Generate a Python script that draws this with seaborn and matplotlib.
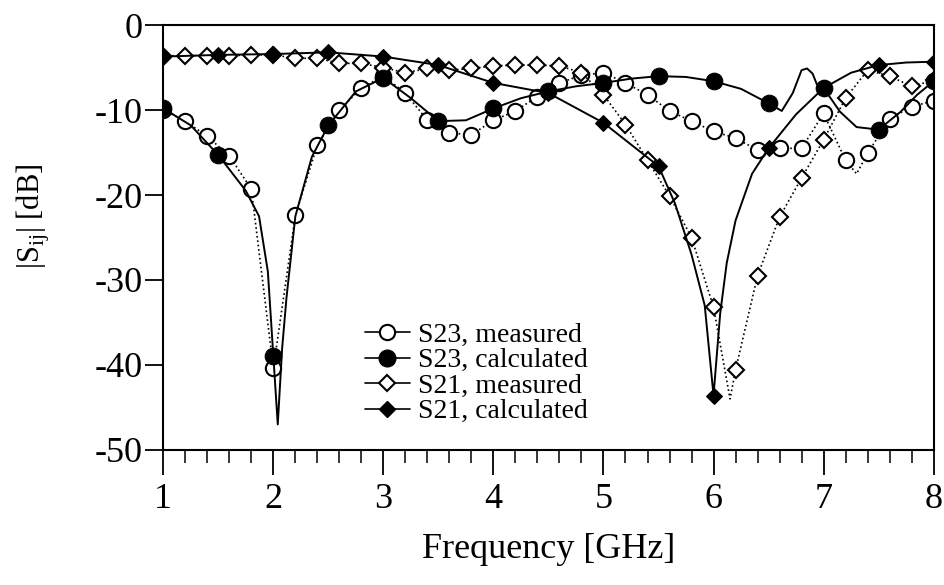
import matplotlib.pyplot as plt
import seaborn as sns
from matplotlib.lines import Line2D
from matplotlib.ticker import MultipleLocator

# S23 measured (open circles every 0.2 GHz, dotted line)
s23_meas_f = [1.0, 1.2, 1.4, 1.6, 1.8, 2.0, 2.2, 2.4, 2.6, 2.8, 3.0, 3.2, 3.4, 3.6,
              3.8, 4.0, 4.2, 4.4, 4.6, 4.8, 5.0, 5.2, 5.4, 5.6, 5.8, 6.0, 6.2, 6.4,
              6.6, 6.8, 7.0, 7.2, 7.3, 7.4, 7.6, 7.8, 8.0]
s23_meas_db = [-10.0, -11.3, -13.1, -15.4, -19.3, -40.4, -22.4, -14.1, -10.0, -7.4, -6.0,
               -8.0, -11.2, -12.7, -12.9, -11.2, -10.1, -8.4, -6.8, -5.9, -5.6, -6.8,
               -8.2, -10.1, -11.3, -12.5, -13.3, -14.7, -14.5, -14.5, -10.4, -15.9,
               -17.5, -15.1, -11.0, -9.6, -8.9]

# S23 calculated (filled circles every 0.5 GHz, solid line)
s23_calc_f = [1.0, 1.25, 1.5, 1.75, 1.87, 1.95, 2.0, 2.04, 2.08, 2.12, 2.2, 2.35, 2.5,
              2.75, 3.0, 3.25, 3.5, 3.75, 4.0, 4.25, 4.5, 4.75, 5.0, 5.25, 5.5, 5.75,
              6.0, 6.25, 6.5, 6.62, 6.72, 6.8, 6.85, 6.9, 6.94, 7.0, 7.15, 7.3, 7.5,
              7.7, 7.85, 8.0]
s23_calc_db = [-9.8, -11.8, -15.3, -19.5, -22.5, -29.0, -39.0, -47.0, -38.0, -32.0,
               -22.5, -15.5, -11.8, -7.8, -6.2, -8.6, -11.3, -11.2, -9.8, -8.6, -7.8,
               -7.2, -6.8, -6.3, -6.0, -6.1, -6.6, -7.5, -9.2, -10.1, -8.0, -5.3, -5.1,
               -5.7, -7.0, -7.4, -10.2, -12.0, -12.3, -10.2, -8.2, -6.6]

# S21 measured (open diamonds every 0.2 GHz, dotted line)
s21_meas_f = [1.0, 1.2, 1.4, 1.6, 1.8, 2.0, 2.2, 2.4, 2.6, 2.8, 3.0, 3.2, 3.4, 3.6,
              3.8, 4.0, 4.2, 4.4, 4.6, 4.8, 5.0, 5.2, 5.4, 5.6, 5.8, 6.0, 6.15, 6.2,
              6.4, 6.6, 6.8, 7.0, 7.2, 7.4, 7.6, 7.8, 8.0]
s21_meas_db = [-3.6, -3.6, -3.6, -3.6, -3.5, -3.5, -3.9, -3.9, -4.5, -4.5, -5.0, -5.6,
               -5.1, -5.3, -5.1, -4.8, -4.7, -4.7, -4.8, -5.6, -8.2, -11.7, -15.9,
               -20.1, -25.0, -33.2, -44.0, -40.6, -29.5, -22.6, -18.0, -13.5, -8.6,
               -5.3, -6.0, -7.2, -6.5]

# S21 calculated (filled diamonds every 0.5 GHz, solid line)
s21_calc_f = [1.0, 1.5, 2.0, 2.5, 3.0, 3.5, 4.0, 4.5, 5.0, 5.5, 5.65, 5.8, 5.92, 6.0,
              6.06, 6.12, 6.2, 6.35, 6.5, 6.75, 7.0, 7.25, 7.5, 7.75, 8.0]
s21_calc_db = [-3.7, -3.5, -3.4, -3.2, -3.7, -4.7, -6.8, -8.0, -11.5, -16.6, -21.0,
               -27.0, -33.0, -43.6, -34.0, -28.0, -23.0, -17.5, -14.5, -10.5, -7.4,
               -5.6, -4.7, -4.4, -4.3]

labels = ['S23, measured', 'S23, calculated', 'S21, measured', 'S21, calculated']


def marks(freqs, step):
    return [i for i, f in enumerate(freqs) if abs(f / step - round(f / step)) < 1e-6]


sns.set_theme(style='ticks')
plt.rcParams['font.family'] = ['Liberation Serif', 'DejaVu Serif']
plt.rcParams['axes.unicode_minus'] = False
plt.rcParams['mathtext.fontset'] = 'custom'
plt.rcParams['mathtext.rm'] = 'Liberation Serif'
plt.rcParams['text.color'] = 'black'
plt.rcParams['axes.labelcolor'] = 'black'

fig, ax = plt.subplots(figsize=(9.44, 5.85), dpi=100)
fig.subplots_adjust(left=0.173, right=0.989, bottom=0.231, top=0.957)

sns.lineplot(x=s23_meas_f, y=s23_meas_db, ax=ax, sort=False, color='black',
             linestyle=':', linewidth=1.2, marker='o', markevery=marks(s23_meas_f, 0.2),
             markersize=11, markerfacecolor='white', markeredgecolor='black',
             markeredgewidth=1.5)
sns.lineplot(x=s21_meas_f, y=s21_meas_db, ax=ax, sort=False, color='black',
             linestyle=':', linewidth=1.2, marker='D', markevery=marks(s21_meas_f, 0.2),
             markersize=8, markerfacecolor='white', markeredgecolor='black',
             markeredgewidth=1.5)
sns.lineplot(x=s23_calc_f, y=s23_calc_db, ax=ax, sort=False, color='black',
             linestyle='-', linewidth=1.4, marker='o', markevery=marks(s23_calc_f, 0.5),
             markersize=12, markerfacecolor='black', markeredgecolor='black')
sns.lineplot(x=s21_calc_f, y=s21_calc_db, ax=ax, sort=False, color='black',
             linestyle='-', linewidth=1.4, marker='D', markevery=marks(s21_calc_f, 0.5),
             markersize=8, markerfacecolor='black', markeredgecolor='black')

handles = [
    Line2D([], [], color='black', lw=1.2, marker='o', ms=11, mfc='white', mec='black', mew=1.5),
    Line2D([], [], color='black', lw=1.2, marker='o', ms=12, mfc='black', mec='black'),
    Line2D([], [], color='black', lw=1.2, marker='D', ms=8, mfc='white', mec='black', mew=1.5),
    Line2D([], [], color='black', lw=1.2, marker='D', ms=8, mfc='black', mec='black'),
]
ax.legend(handles, labels, loc='upper left', bbox_to_anchor=(0.262, 0.30),
          frameon=False, fontsize=20, handlelength=1.6, handletextpad=0.3,
          labelspacing=0.0, borderaxespad=0, borderpad=0)

ax.set_xlim(1, 8)
ax.set_ylim(-50, 0)
ax.xaxis.set_major_locator(MultipleLocator(1))
ax.xaxis.set_minor_locator(MultipleLocator(0.2))
ax.set_yticks([-50, -40, -30, -20, -10, 0])
ax.tick_params(axis='x', which='major', direction='out', length=18, width=1.3,
               labelsize=26, pad=6, colors='black')
ax.tick_params(axis='x', which='minor', direction='out', length=9, width=1.3)
ax.tick_params(axis='y', direction='out', length=13, width=1.3, labelsize=26, pad=2,
               colors='black')
for sp in ax.spines.values():
    sp.set_visible(True)
    sp.set_color('black')
    sp.set_linewidth(1.5)

ax.set_xlabel('Frequency [GHz]', fontsize=26, labelpad=12)
ax.set_ylabel(r'|S$_{\mathregular{ij}}$| [dB]', fontsize=22)
ax.yaxis.set_label_coords(-0.145, 0.55)

fig.savefig('out.png', dpi=100, facecolor='white')
